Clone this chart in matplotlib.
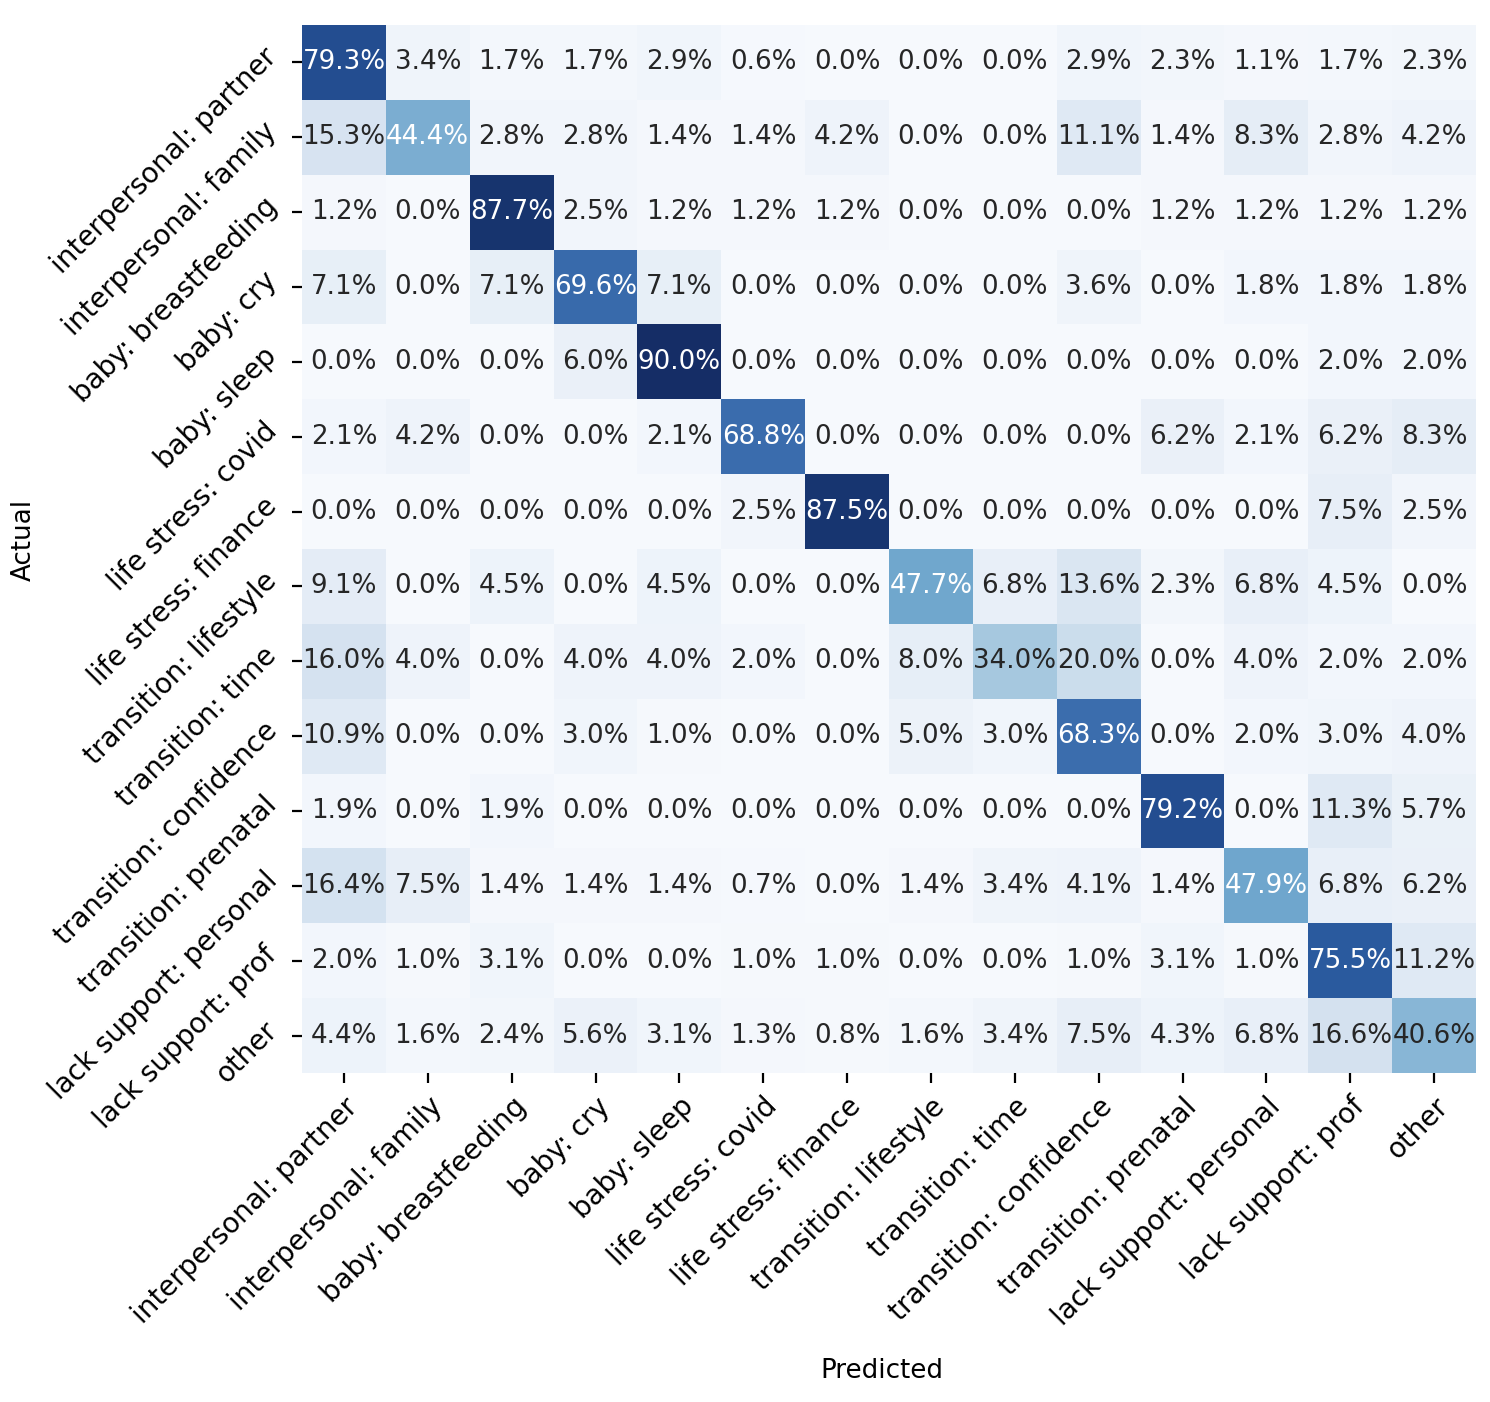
import numpy as np
import matplotlib
matplotlib.use("Agg")
import matplotlib.pyplot as plt
from matplotlib.colors import LinearSegmentedColormap
import seaborn as sns

labels = ["interpersonal: partner", "interpersonal: family", "baby: breastfeeding",
          "baby: cry", "baby: sleep", "life stress: covid", "life stress: finance",
          "transition: lifestyle", "transition: time", "transition: confidence",
          "transition: prenatal", "lack support: personal", "lack support: prof", "other"]

# percent of each actual class (rows) predicted as each class (columns)
row_partner = [79.3, 3.4, 1.7, 1.7, 2.9, 0.6, 0.0, 0.0, 0.0, 2.9, 2.3, 1.1, 1.7, 2.3]
row_family = [15.3, 44.4, 2.8, 2.8, 1.4, 1.4, 4.2, 0.0, 0.0, 11.1, 1.4, 8.3, 2.8, 4.2]
row_breastfeeding = [1.2, 0.0, 87.7, 2.5, 1.2, 1.2, 1.2, 0.0, 0.0, 0.0, 1.2, 1.2, 1.2, 1.2]
row_cry = [7.1, 0.0, 7.1, 69.6, 7.1, 0.0, 0.0, 0.0, 0.0, 3.6, 0.0, 1.8, 1.8, 1.8]
row_sleep = [0.0, 0.0, 0.0, 6.0, 90.0, 0.0, 0.0, 0.0, 0.0, 0.0, 0.0, 0.0, 2.0, 2.0]
row_covid = [2.1, 4.2, 0.0, 0.0, 2.1, 68.8, 0.0, 0.0, 0.0, 0.0, 6.2, 2.1, 6.2, 8.3]
row_finance = [0.0, 0.0, 0.0, 0.0, 0.0, 2.5, 87.5, 0.0, 0.0, 0.0, 0.0, 0.0, 7.5, 2.5]
row_lifestyle = [9.1, 0.0, 4.5, 0.0, 4.5, 0.0, 0.0, 47.7, 6.8, 13.6, 2.3, 6.8, 4.5, 0.0]
row_time = [16.0, 4.0, 0.0, 4.0, 4.0, 2.0, 0.0, 8.0, 34.0, 20.0, 0.0, 4.0, 2.0, 2.0]
row_confidence = [10.9, 0.0, 0.0, 3.0, 1.0, 0.0, 0.0, 5.0, 3.0, 68.3, 0.0, 2.0, 3.0, 4.0]
row_prenatal = [1.9, 0.0, 1.9, 0.0, 0.0, 0.0, 0.0, 0.0, 0.0, 0.0, 79.2, 0.0, 11.3, 5.7]
row_personal = [16.4, 7.5, 1.4, 1.4, 1.4, 0.7, 0.0, 1.4, 3.4, 4.1, 1.4, 47.9, 6.8, 6.2]
row_prof = [2.0, 1.0, 3.1, 0.0, 0.0, 1.0, 1.0, 0.0, 0.0, 1.0, 3.1, 1.0, 75.5, 11.2]
row_other = [4.4, 1.6, 2.4, 5.6, 3.1, 1.3, 0.8, 1.6, 3.4, 7.5, 4.3, 6.8, 16.6, 40.6]

cm = np.array([row_partner, row_family, row_breastfeeding, row_cry, row_sleep,
               row_covid, row_finance, row_lifestyle, row_time, row_confidence,
               row_prenatal, row_personal, row_prof, row_other]) / 100.0

# slightly muted Blues, as in the picture
blues = LinearSegmentedColormap.from_list("muted_blues", [
    (0.0, "#f6f9fd"), (0.178, "#d5e2f0"), (0.378, "#a6c8df"), (0.451, "#88b6d6"),
    (0.532, "#6fa6cd"), (0.764, "#3a6cad"), (0.839, "#2a5a9e"), (0.88, "#234e91"),
    (0.972, "#173570"), (1.0, "#152d66")])

fs = 9.4
tfs = 10
fig = plt.figure(figsize=(7.45, 7.01), dpi=200)
ax = fig.add_axes([0.2027, 0.2347, 0.7879, 0.7475])

sns.heatmap(cm, annot=True, fmt=".1%", cmap=blues, cbar=False,
            xticklabels=labels, yticklabels=labels,
            annot_kws={"fontsize": fs}, ax=ax)

ax.tick_params(labelsize=tfs)
plt.setp(ax.get_xticklabels(), rotation=45, ha="right", rotation_mode="anchor")
plt.setp(ax.get_yticklabels(), rotation=45, ha="right", va="bottom", rotation_mode="anchor")

ax.set_xlabel("Predicted", fontsize=fs)
ax.set_ylabel("Actual", fontsize=fs)
ax.xaxis.set_label_coords(0.494, -0.272)
ax.yaxis.set_label_coords(-0.226, 0.509)

fig.savefig("out.png", dpi=200)
